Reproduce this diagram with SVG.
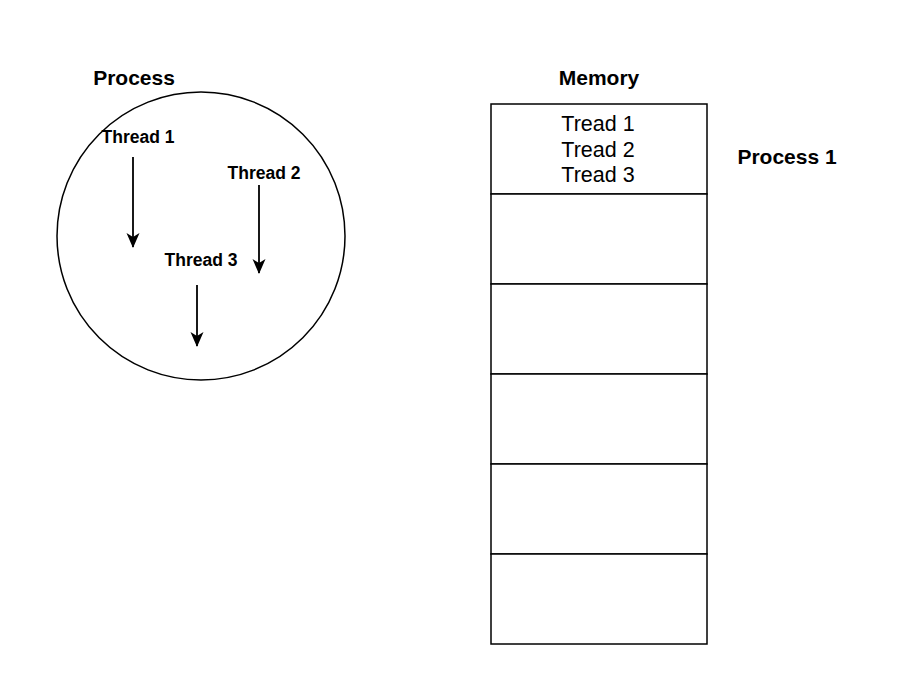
<svg xmlns="http://www.w3.org/2000/svg" width="904" height="698" viewBox="0 0 904 698">
<style>
.b{font-family:"Liberation Sans",Arial,sans-serif;font-weight:bold;fill:#000;text-anchor:middle}
.r{font-family:"Liberation Sans",Arial,sans-serif;fill:#000;text-anchor:middle;font-size:21.5px}
.s{fill:#fff;stroke:#000;stroke-width:1.5}
.c{stroke:#000;stroke-width:1.8;fill:none;marker-end:url(#ah)}
</style>
<defs>
<marker id="ah" markerUnits="userSpaceOnUse" markerWidth="15" markerHeight="14" refX="14" refY="6.5" orient="auto" viewBox="0 0 15 13">
<path d="M0,0 L15,6.5 L0,13 L4,6.5 Z" fill="#000"/>
</marker>
</defs>
<rect width="904" height="698" fill="#fff"/>
<g id="process">
<circle class="s" cx="201" cy="236" r="144"/>
<text class="b" x="134" y="85" font-size="21">Process</text>
</g>
<g id="thread1"><text class="b" x="138" y="143" font-size="17.5">Thread 1</text></g>
<g id="thread2"><text class="b" x="264" y="179" font-size="17.5">Thread 2</text></g>
<g id="thread3"><text class="b" x="201" y="266" font-size="17.5">Thread 3</text></g>
<g id="memory">
<text class="b" x="599" y="85" font-size="21">Memory</text>
<rect class="s" x="491" y="104" width="216" height="90"/>
<text class="r" x="598" y="131">Tread 1</text>
<text class="r" x="598" y="157">Tread 2</text>
<text class="r" x="598" y="182">Tread 3</text>
<rect class="s" x="491" y="194" width="216" height="90"/>
<rect class="s" x="491" y="284" width="216" height="90"/>
<rect class="s" x="491" y="374" width="216" height="90"/>
<rect class="s" x="491" y="464" width="216" height="90"/>
<rect class="s" x="491" y="554" width="216" height="90"/>
</g>
<g id="process1"><text class="b" x="787" y="164" font-size="21">Process 1</text></g>
<g id="connectors">
<line class="c" x1="133" y1="157" x2="133" y2="247"/>
<line class="c" x1="259" y1="185" x2="259" y2="273"/>
<line class="c" x1="197" y1="285" x2="197" y2="346"/>
</g>
</svg>
